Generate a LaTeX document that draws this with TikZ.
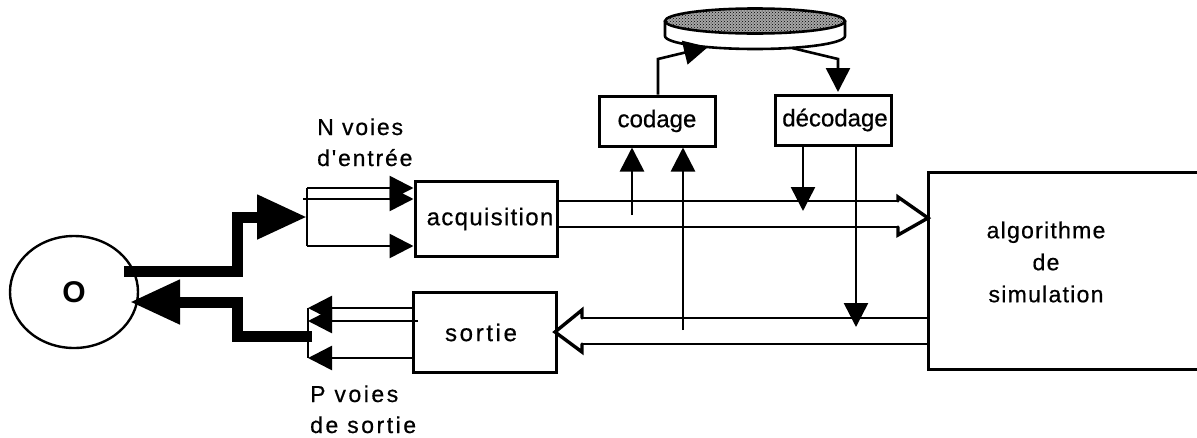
\documentclass[tikz,border=0pt]{standalone}
\usepackage{fontspec}
\setmainfont{Liberation Sans}
\newfontfamily\wa[LetterSpace=5.5,FakeBold=0.6]{Liberation Sans}
\newfontfamily\wc[LetterSpace=8,FakeBold=0.6]{Liberation Sans}
\newfontfamily\wb[LetterSpace=11,FakeBold=0.6]{Liberation Sans}
\newfontfamily\wn[FakeBold=0.6]{Liberation Sans}
\usetikzlibrary{arrows.meta,patterns,shapes.geometric}
\tikzset{
  box/.style={draw,line width=3pt,inner sep=0pt,font=\fontsize{24}{28}\selectfont\wn},
  lab/.style={inner sep=0pt,anchor=base west,font=\fontsize{23}{28}\selectfont\wb},
  labn/.style={inner sep=0pt,anchor=base west,font=\fontsize{23}{28}\selectfont\wc},
  wire/.style={line width=2.6pt,-{Triangle[length=24pt,width=24pt]}},
  plain/.style={line width=2.6pt},
  thick bus/.style={line width=11pt,line join=miter},
  thick arrow/.style={thick bus,-{Triangle[length=50pt,width=42pt]}},
  open/.style={line width=3.4pt,line join=miter,line cap=round}
}
\begin{document}
\begin{tikzpicture}[x=1pt,y=-1pt]
\useasboundingbox (0,0) rectangle (1197,437);
% operator
\node[draw,ellipse,line width=2.4pt,minimum width=128pt,minimum height=112pt,inner sep=0pt,font=\fontsize{30}{30}\selectfont\bfseries] (op) at (74,292) {O};
% boxes
\node[box,minimum width=142pt,minimum height=75pt,font=\fontsize{24}{28}\selectfont\wa] (acq) at (486,219) {\hspace*{8pt}acquisition};
\node[box,minimum width=143pt,minimum height=80pt,font=\fontsize{24}{28}\selectfont\wb] (sor) at (485,332.5) {sortie\hspace*{8pt}};
\node[box,minimum width=116pt,minimum height=50pt] (cod) at (657,121) {codage};
\node[box,minimum width=116pt,minimum height=50pt] (dec) at (833,120) {\hspace*{4pt}décodage};
\node[box,minimum width=280pt,minimum height=197pt] (alg) at (1068,271) {};
\node[inner sep=0pt,align=center,font=\fontsize{23}{32}\selectfont\wa] (algt) at (1046,262) {algorithme\\de\hspace*{18pt}\\simulation};
% disk
\coordinate (dl) at (665,21);\coordinate (dr) at (845,21);
\draw[line width=2.6pt,fill=white] (dl) -- (665,36) arc[start angle=180,end angle=360,x radius=90,y radius=-13] -- (dr);
\node[draw,ellipse,line width=2.6pt,minimum width=180pt,minimum height=25pt,inner sep=0pt,preaction={fill=black!35},pattern=crosshatch dots] (disk) at (755,21) {};
\coordinate (dkin) at (708,47);\coordinate (dkout) at (792,48);
% labels
\node[labn] (n1) at (317,135) {N voies};
\node[labn] (n2) at (317,166) {d'entrée};
\node[lab] (p1) at (310,402) {P voies};
\node[lab] (p2) at (310,433) {de sortie};
% input fan
\coordinate (ob) at (124,271);\coordinate (oc) at (237,271);\coordinate (od) at (237,217);\coordinate (oe) at (307,217);
\draw[thick arrow] (ob) -- (oc) -- (od) -- (oe);
\coordinate (f1) at (307,188);\coordinate (f2) at (303,199);\coordinate (f3) at (307,246);
\draw[plain] (f1) -- (f3);
\draw[wire] (f1) -- (f1 -| acq.west);
\draw[wire] (f2) -- (f2 -| acq.west);
\draw[wire] (f3) -- (f3 -| acq.west);
% output fan
\coordinate (g1) at (308,308);\coordinate (g2) at (308,321);\coordinate (g3) at (308,358);
\draw[plain] (g1) -- (g3);
\draw[wire] (g1 -| sor.west) -- (g1);
\coordinate (g2s) at (418,321);
\draw[wire] (g2s) -- (g2);
\draw[wire] (g3 -| sor.west) -- (g3);
\coordinate (pa) at (312,336);\coordinate (pb) at (237,336);\coordinate (pc) at (237,302);\coordinate (pd) at (130,302);
\draw[thick arrow] (pa) -- (pb) -- (pc) -- (pd);
% acquisition to algorithm
\coordinate (t1) at (898,201);\coordinate (t2) at (898,227);\coordinate (u1) at (898,197);\coordinate (u2) at (898,235);\coordinate (ut) at (928,218);
\draw[plain] (t1 -| acq.east) -- (t1);
\draw[plain] (t2 -| acq.east) -- (t2);
\draw[open] (t1) -- (u1) -- (ut) -- (u2) -- (t2);
% algorithm to sortie
\coordinate (v1) at (582,318);\coordinate (v2) at (582,344);\coordinate (w1) at (582,310);\coordinate (w2) at (582,352);\coordinate (wt) at (555,332);
\draw[plain] (v1 -| alg.west) -- (v1);
\draw[plain] (v2 -| alg.west) -- (v2);
\draw[open] (v1) -- (w1) -- (wt) -- (w2) -- (v2);
% to coding
\coordinate (c1) at (632,215);\coordinate (c2) at (683,330);
\draw[wire] (c1) -- (c1 |- cod.south);
\draw[wire] (c2) -- (c2 |- cod.south);
% from decoding
\coordinate (e1) at (803,211);\coordinate (e2) at (856,327);
\draw[wire] (e1 |- dec.south) -- (e1);
\draw[wire] (e2 |- dec.south) -- (e2);
% disk links
\coordinate (k1) at (658,59);\coordinate (k2) at (838,59);
\draw[wire] (k1 |- cod.north) -- (k1) -- (dkin);
\draw[wire] (dkout) -- (k2) -- (838,92);
\end{tikzpicture}
\end{document}
